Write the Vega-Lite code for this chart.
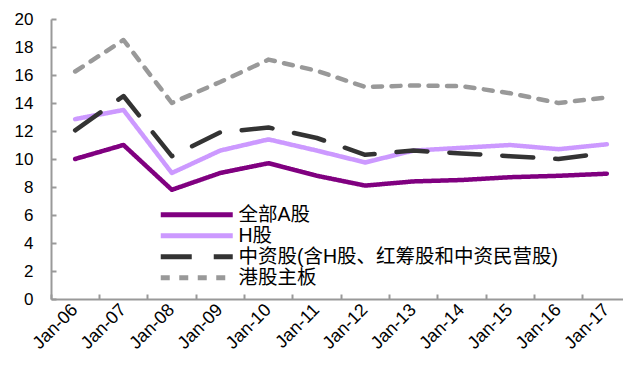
{
  "$schema": "https://vega.github.io/schema/vega-lite/v6.json",
  "autosize": "none",
  "width": 572,
  "height": 280,
  "padding": {"left": 51, "top": 19, "right": 0, "bottom": 68},
  "background": "white",
  "config": {
    "view": {"stroke": null},
    "font": "Liberation Sans, Noto Sans CJK SC"
  },
  "datasets": {
    "pe": [
      {"date": "Jan-06", "series": "全部A股", "value": 10.0},
      {"date": "Jan-07", "series": "全部A股", "value": 11.0},
      {"date": "Jan-08", "series": "全部A股", "value": 7.8},
      {"date": "Jan-09", "series": "全部A股", "value": 9.0},
      {"date": "Jan-10", "series": "全部A股", "value": 9.7},
      {"date": "Jan-11", "series": "全部A股", "value": 8.8},
      {"date": "Jan-12", "series": "全部A股", "value": 8.1},
      {"date": "Jan-13", "series": "全部A股", "value": 8.4},
      {"date": "Jan-14", "series": "全部A股", "value": 8.5},
      {"date": "Jan-15", "series": "全部A股", "value": 8.7},
      {"date": "Jan-16", "series": "全部A股", "value": 8.8},
      {"date": "Jan-17", "series": "全部A股", "value": 8.95},
      {"date": "Jan-06", "series": "H股", "value": 12.85},
      {"date": "Jan-07", "series": "H股", "value": 13.5},
      {"date": "Jan-08", "series": "H股", "value": 9.0},
      {"date": "Jan-09", "series": "H股", "value": 10.6},
      {"date": "Jan-10", "series": "H股", "value": 11.4},
      {"date": "Jan-11", "series": "H股", "value": 10.6},
      {"date": "Jan-12", "series": "H股", "value": 9.75},
      {"date": "Jan-13", "series": "H股", "value": 10.6},
      {"date": "Jan-14", "series": "H股", "value": 10.8},
      {"date": "Jan-15", "series": "H股", "value": 11.0},
      {"date": "Jan-16", "series": "H股", "value": 10.7},
      {"date": "Jan-17", "series": "H股", "value": 11.05},
      {"date": "Jan-06", "series": "中资股(含H股、红筹股和中资民营股)", "value": 12.05},
      {"date": "Jan-07", "series": "中资股(含H股、红筹股和中资民营股)", "value": 14.5},
      {"date": "Jan-08", "series": "中资股(含H股、红筹股和中资民营股)", "value": 10.2},
      {"date": "Jan-09", "series": "中资股(含H股、红筹股和中资民营股)", "value": 11.9},
      {"date": "Jan-10", "series": "中资股(含H股、红筹股和中资民营股)", "value": 12.25},
      {"date": "Jan-11", "series": "中资股(含H股、红筹股和中资民营股)", "value": 11.5},
      {"date": "Jan-12", "series": "中资股(含H股、红筹股和中资民营股)", "value": 10.3},
      {"date": "Jan-13", "series": "中资股(含H股、红筹股和中资民营股)", "value": 10.6},
      {"date": "Jan-14", "series": "中资股(含H股、红筹股和中资民营股)", "value": 10.4},
      {"date": "Jan-15", "series": "中资股(含H股、红筹股和中资民营股)", "value": 10.2},
      {"date": "Jan-16", "series": "中资股(含H股、红筹股和中资民营股)", "value": 10.0},
      {"date": "Jan-17", "series": "中资股(含H股、红筹股和中资民营股)", "value": 10.45},
      {"date": "Jan-06", "series": "港股主板", "value": 16.25},
      {"date": "Jan-07", "series": "港股主板", "value": 18.5},
      {"date": "Jan-08", "series": "港股主板", "value": 14.0},
      {"date": "Jan-09", "series": "港股主板", "value": 15.5},
      {"date": "Jan-10", "series": "港股主板", "value": 17.1},
      {"date": "Jan-11", "series": "港股主板", "value": 16.3},
      {"date": "Jan-12", "series": "港股主板", "value": 15.15},
      {"date": "Jan-13", "series": "港股主板", "value": 15.25},
      {"date": "Jan-14", "series": "港股主板", "value": 15.2},
      {"date": "Jan-15", "series": "港股主板", "value": 14.7},
      {"date": "Jan-16", "series": "港股主板", "value": 14.0},
      {"date": "Jan-17", "series": "港股主板", "value": 14.4}
    ]
  },
  "data": {"name": "pe"},
  "mark": {"type": "line", "strokeWidth": 4.5, "strokeCap": "round", "strokeJoin": "round"},
  "encoding": {
    "x": {
      "field": "date",
      "type": "ordinal",
      "bandPosition": 0.5,
      "sort": null,
      "scale": {"type": "band", "range": [0, 580], "paddingInner": 0, "paddingOuter": 0},
      "axis": {
        "title": null,
        "bandPosition": 0,
        "labelOffset": 0,
        "labelAngle": -45,
        "labelAlign": "right",
        "labelBaseline": "middle",
        "labelFontSize": 18,
        "labelColor": "#000000",
        "labelPadding": 13,
        "domainColor": "#999999",
        "domainWidth": 2,
        "tickColor": "#999999",
        "tickWidth": 2,
        "tickSize": -5,
        "grid": false
      }
    },
    "y": {
      "field": "value",
      "type": "quantitative",
      "scale": {"domain": [0, 20], "nice": false},
      "axis": {
        "title": null,
        "values": [0, 2, 4, 6, 8, 10, 12, 14, 16, 18, 20],
        "labelFontSize": 17,
        "labelColor": "#000000",
        "labelPadding": 23,
        "domainColor": "#999999",
        "domainWidth": 2,
        "tickColor": "#999999",
        "tickWidth": 2,
        "tickSize": -5,
        "grid": false
      }
    },
    "color": {
      "field": "series",
      "type": "nominal",
      "sort": ["全部A股", "H股", "中资股(含H股、红筹股和中资民营股)", "港股主板"],
      "scale": {
        "domain": ["全部A股", "H股", "中资股(含H股、红筹股和中资民营股)", "港股主板"],
        "range": ["#800080", "#CC99FF", "#333333", "#999999"]
      },
      "legend": {
        "title": null,
        "orient": "none",
        "legendX": 106,
        "legendY": 186,
        "symbolType": "M-1,0H11",
        "symbolSize": 144,
        "symbolStrokeWidth": 5,
        "labelFontSize": 19.5,
        "labelColor": "#000000",
        "labelOffset": 62,
        "rowPadding": 0,
        "labelLimit": 500,
        "padding": 0
      }
    },
    "strokeDash": {
      "field": "series",
      "type": "nominal",
      "sort": ["全部A股", "H股", "中资股(含H股、红筹股和中资民营股)", "港股主板"],
      "scale": {
        "domain": ["全部A股", "H股", "中资股(含H股、红筹股和中资民营股)", "港股主板"],
        "range": [[1, 0], [1, 0], [31, 22], [9, 9.5]]
      },
      "legend": null
    }
  }
}
